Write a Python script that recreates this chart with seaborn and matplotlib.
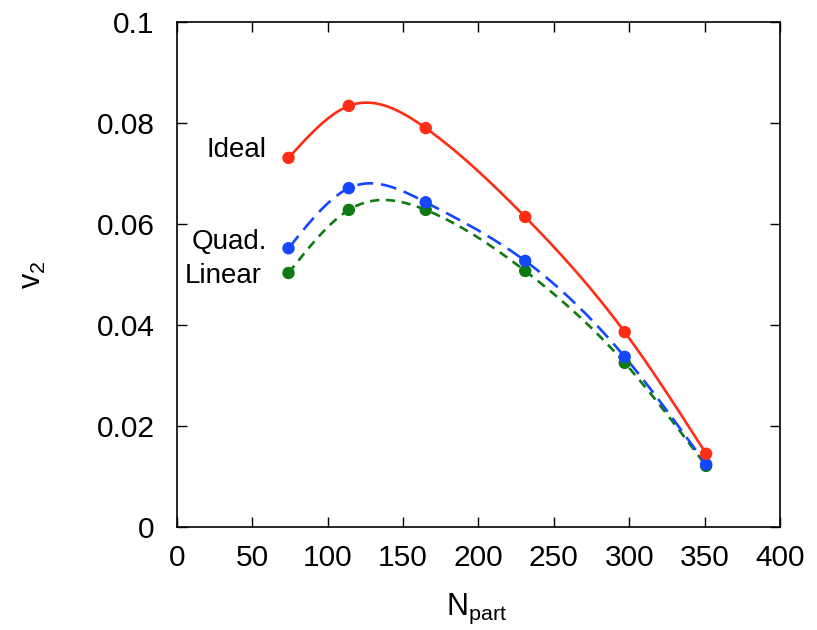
import numpy as np
import pandas as pd
import matplotlib
matplotlib.use("Agg")
import matplotlib.pyplot as plt
import seaborn as sns

# Data
npart = [74, 114, 165, 231, 297, 351]
v2_ideal = [0.0731, 0.0834, 0.0790, 0.0614, 0.0386, 0.0145]
v2_quad = [0.0552, 0.0671, 0.0643, 0.0527, 0.0337, 0.0124]
v2_linear = [0.0503, 0.0628, 0.0628, 0.0507, 0.0325, 0.0121]
series_names = ["Ideal", "Quad.", "Linear"]
x_ticks = [0, 50, 100, 150, 200, 250, 300, 350, 400]
y_ticks = [0, 0.02, 0.04, 0.06, 0.08, 0.1]
y_ticklabels = ["0", "0.02", "0.04", "0.06", "0.08", "0.1"]


def natural_spline(x, y, n=300):
    x = np.asarray(x, float)
    y = np.asarray(y, float)
    k = len(x)
    h = np.diff(x)
    A = np.zeros((k, k))
    b = np.zeros(k)
    A[0, 0] = 1
    A[-1, -1] = 1
    for i in range(1, k - 1):
        A[i, i - 1] = h[i - 1]
        A[i, i] = 2 * (h[i - 1] + h[i])
        A[i, i + 1] = h[i]
        b[i] = 3 * ((y[i + 1] - y[i]) / h[i] - (y[i] - y[i - 1]) / h[i - 1])
    c = np.linalg.solve(A, b)
    xs = np.linspace(x[0], x[-1], n)
    ys = np.empty_like(xs)
    for j, xv in enumerate(xs):
        i = min(np.searchsorted(x, xv, side="right") - 1, k - 2)
        i = max(i, 0)
        dx = xv - x[i]
        bi = (y[i + 1] - y[i]) / h[i] - h[i] * (2 * c[i] + c[i + 1]) / 3
        di = (c[i + 1] - c[i]) / (3 * h[i])
        ys[j] = y[i] + bi * dx + c[i] * dx ** 2 + di * dx ** 3
    return xs, ys


sns.set_theme(style="ticks")
plt.rcParams["font.family"] = ["Liberation Sans", "DejaVu Sans"]
plt.rcParams["mathtext.fontset"] = "custom"
plt.rcParams["mathtext.rm"] = "Liberation Sans"
plt.rcParams["mathtext.it"] = "Liberation Sans"
plt.rcParams["mathtext.bf"] = "Liberation Sans:bold"
for key in ["text.color", "axes.labelcolor", "xtick.color", "ytick.color",
            "axes.edgecolor"]:
    plt.rcParams[key] = "black"

fig = plt.figure(figsize=(8.17, 6.3), dpi=100)
ax = fig.add_axes([0.2166, 0.1635, 0.7381, 0.8015])

colors = {"Ideal": "#ff2d14", "Quad.": "#1447ff", "Linear": "#0f7a0f"}
dashes = {"Ideal": None, "Quad.": (6, 3), "Linear": (3.5, 2.5)}
values = {"Ideal": v2_ideal, "Quad.": v2_quad, "Linear": v2_linear}

for name in ["Linear", "Quad.", "Ideal"]:
    xs, ys = natural_spline(npart, values[name])
    curve = pd.DataFrame({"x": xs, "y": ys})
    pts = pd.DataFrame({"x": npart, "y": values[name]})
    line = sns.lineplot(data=curve, x="x", y="y", ax=ax, color=colors[name],
                        lw=1.9, estimator=None, sort=False)
    if dashes[name] is not None:
        line.lines[-1].set_dashes(dashes[name])
    sns.scatterplot(data=pts, x="x", y="y", ax=ax, color=colors[name],
                    s=80, edgecolor="none", zorder=5)

ax.set_xlim(0, 400)
ax.set_ylim(0, 0.1)
ax.set_xticks(x_ticks)
ax.set_xticklabels([str(t) for t in x_ticks])
ax.set_yticks(y_ticks)
ax.set_yticklabels(y_ticklabels)
ax.tick_params(direction="in", length=7, width=1, labelsize=21.5, top=True,
               right=True, colors="black")
ax.tick_params(axis="x", pad=12.5)
ax.tick_params(axis="y", pad=16)
for s in ax.spines.values():
    s.set_color("black")
    s.set_linewidth(1.2)

ax.set_xlabel(r"N$_{\rm part}$", fontsize=22, va="baseline")
ax.xaxis.set_label_coords(0.496, -0.1743)
ax.set_ylabel(r"v$_2$", fontsize=22, va="center")
ax.yaxis.set_label_coords(-0.238, 0.5)

ax.text(59.7, 0.07327, "Ideal", fontsize=20, ha="right", va="baseline")
ax.text(59.7, 0.05505, "Quad.", fontsize=20, ha="right", va="baseline")
ax.text(56.4, 0.04832, "Linear", fontsize=20, ha="right", va="baseline")

fig.savefig("out.png", dpi=100)
